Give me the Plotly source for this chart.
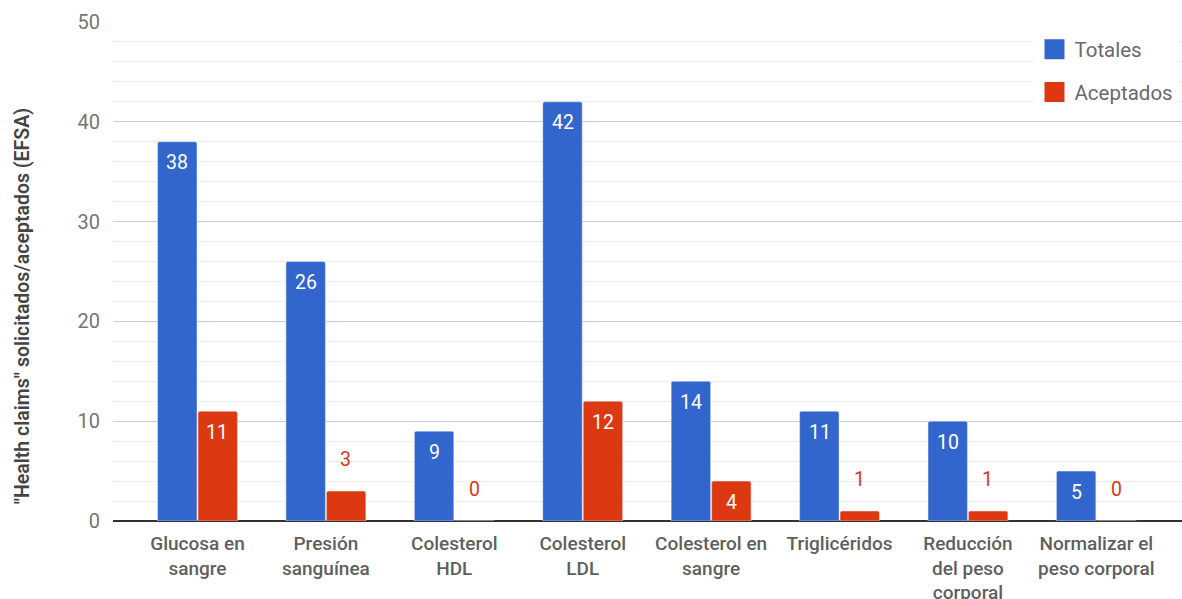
import plotly.graph_objects as go

categories = ["Glucosa en<br>sangre", "Presión<br>sanguínea", "Colesterol<br>HDL", "Colesterol<br>LDL",
              "Colesterol en<br>sangre", "Triglicéridos", "Reducción<br>del peso<br>corporal",
              "Normalizar el<br>peso corporal"]
totales = [38, 26, 9, 42, 14, 11, 10, 5]
aceptados = [11, 3, 0, 12, 4, 1, 1, 0]
series_names = ["Totales", "Aceptados"]
y_title = '"Health claims" solicitados/aceptados (EFSA)'

BLUE = "#3366cc"
RED = "#dc3912"
FONT = "Roboto"

fig = go.Figure()
fig.add_trace(go.Bar(x=categories, y=totales, marker_color=BLUE, name=series_names[0], showlegend=False))
fig.add_trace(go.Bar(x=categories, y=aceptados, marker_color=RED, name=series_names[1], showlegend=False))

# legend entries with large square markers
for nm, col, grp in [(series_names[0], BLUE, "a"), (series_names[1], RED, "b")]:
    fig.add_trace(go.Scatter(x=[None], y=[None], mode="markers", name=nm, legendgroup=grp,
                             marker=dict(symbol="square", size=16, color=col,
                                         line=dict(color=col, width=4))))

annotations = []
for vals, col, shift in [(totales, BLUE, -20), (aceptados, RED, 20)]:
    for c, v in zip(categories, vals):
        inside = v >= 4
        annotations.append(dict(
            x=c, y=v, xref="x", yref="y", text=str(v), showarrow=False,
            xshift=shift, yshift=-21 if inside else 32,
            font=dict(family=FONT, size=19.5, color="white" if inside else col)))

annotations.append(dict(text=y_title, textangle=-90, xref="paper", yref="paper",
                        x=-0.097, y=0.43, showarrow=False,
                        font=dict(family=FONT, size=19.5, color="#444444", weight=600)))

fig.update_layout(
    width=1182, height=599,
    margin=dict(l=113, r=0, t=22, b=78, autoexpand=False),
    paper_bgcolor="white", plot_bgcolor="white",
    barmode="group", bargap=0.37, bargroupgap=0.025, barcornerradius=2,
    font=dict(family=FONT),
    showlegend=True,
    legend=dict(x=0.862, y=0.985, xanchor="left", yanchor="top", bgcolor="white",
                font=dict(family=FONT, size=20.5, color="#6a6a6a"), tracegroupgap=13),
    annotations=annotations,
)
fig.update_xaxes(range=[-0.658, 7.667], showgrid=False, ticks="", automargin=False,
                 tickfont=dict(family=FONT, size=19, color="#5f5f5f", weight=500),
                 ticklabelstandoff=9, showline=False)
fig.update_yaxes(range=[0, 50], dtick=10, gridcolor="#cccccc", gridwidth=1, automargin=False,
                 zeroline=True, zerolinecolor="#333333", zerolinewidth=2,
                 minor=dict(dtick=2, showgrid=True, gridcolor="#ebebeb", gridwidth=1),
                 tickfont=dict(family=FONT, size=20, color="#757575"),
                 ticklabelstandoff=12, showline=False)

fig.write_html("out.html")
